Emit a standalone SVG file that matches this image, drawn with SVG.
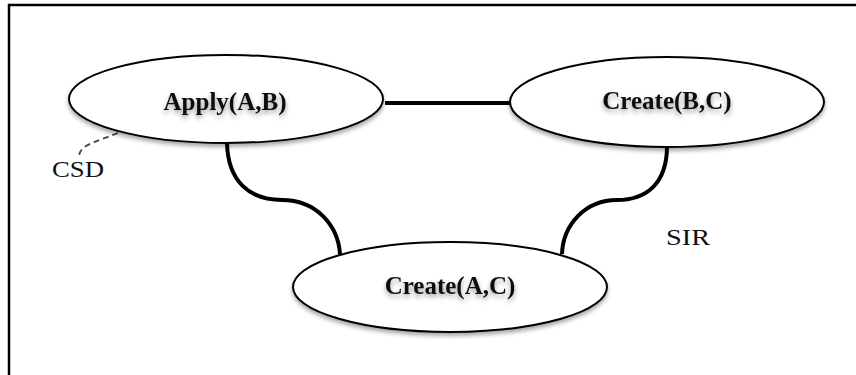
<svg xmlns="http://www.w3.org/2000/svg" width="856" height="375" viewBox="0 0 856 375">
  <defs>
    <filter id="shadow" x="-10%" y="-20%" width="120%" height="150%">
      <feDropShadow dx="0" dy="3" stdDeviation="2" flood-color="#000" flood-opacity="0.35"/>
    </filter>
    <filter id="textShadow" x="-10%" y="-30%" width="120%" height="180%">
      <feDropShadow dx="0" dy="3" stdDeviation="2.5" flood-color="#000" flood-opacity="0.4"/>
    </filter>
  </defs>
  <style>
    .frame { fill: #fff; stroke: #000; stroke-width: 2.5; }
    .node ellipse { fill: #fff; stroke: #000; stroke-width: 2; filter: url(#shadow); }
    .node text { font-family: "Liberation Serif", "Times New Roman", serif; font-weight: bold; font-size: 25px; fill: #111; text-anchor: middle; filter: url(#textShadow); }
    .edge { fill: none; stroke: #000; stroke-width: 4; }
    .note { font-family: "Liberation Serif", "Times New Roman", serif; font-size: 24px; fill: #111; }
    .leader { fill: none; stroke: #444; stroke-width: 1.8; stroke-dasharray: 6 4; }
  </style>

  <!-- outer frame -->
  <rect class="frame" x="9" y="5" width="870" height="400"/>

  <!-- connectors -->
  <g id="connectors">
    <line class="edge" x1="385" y1="103" x2="512" y2="103"/>
    <path class="edge" d="M227,143 C228,182 250,200 282,200 C316,200 338,225 340,254"/>
    <path class="edge" d="M667,146 C667,185 645,200 617,200 C585,200 563,225 562,254"/>
    <path class="leader" d="M118,133 C95,142 80,145 79,156"/>
  </g>

  <!-- nodes -->
  <g id="apply-ab" class="node">
    <ellipse cx="226" cy="99" rx="157" ry="44"/>
    <text x="225" y="110">Apply(A,B)</text>
  </g>
  <g id="create-bc" class="node">
    <ellipse cx="667" cy="102" rx="157" ry="45"/>
    <text x="667" y="109">Create(B,C)</text>
  </g>
  <g id="create-ac" class="node">
    <ellipse cx="450" cy="287" rx="157" ry="45"/>
    <text x="450" y="294">Create(A,C)</text>
  </g>

  <!-- labels -->
  <g id="labels">
    <text class="note" x="52" y="177" textLength="52" lengthAdjust="spacingAndGlyphs">CSD</text>
    <text class="note" x="666" y="245" textLength="44" lengthAdjust="spacingAndGlyphs">SIR</text>
  </g>
</svg>
